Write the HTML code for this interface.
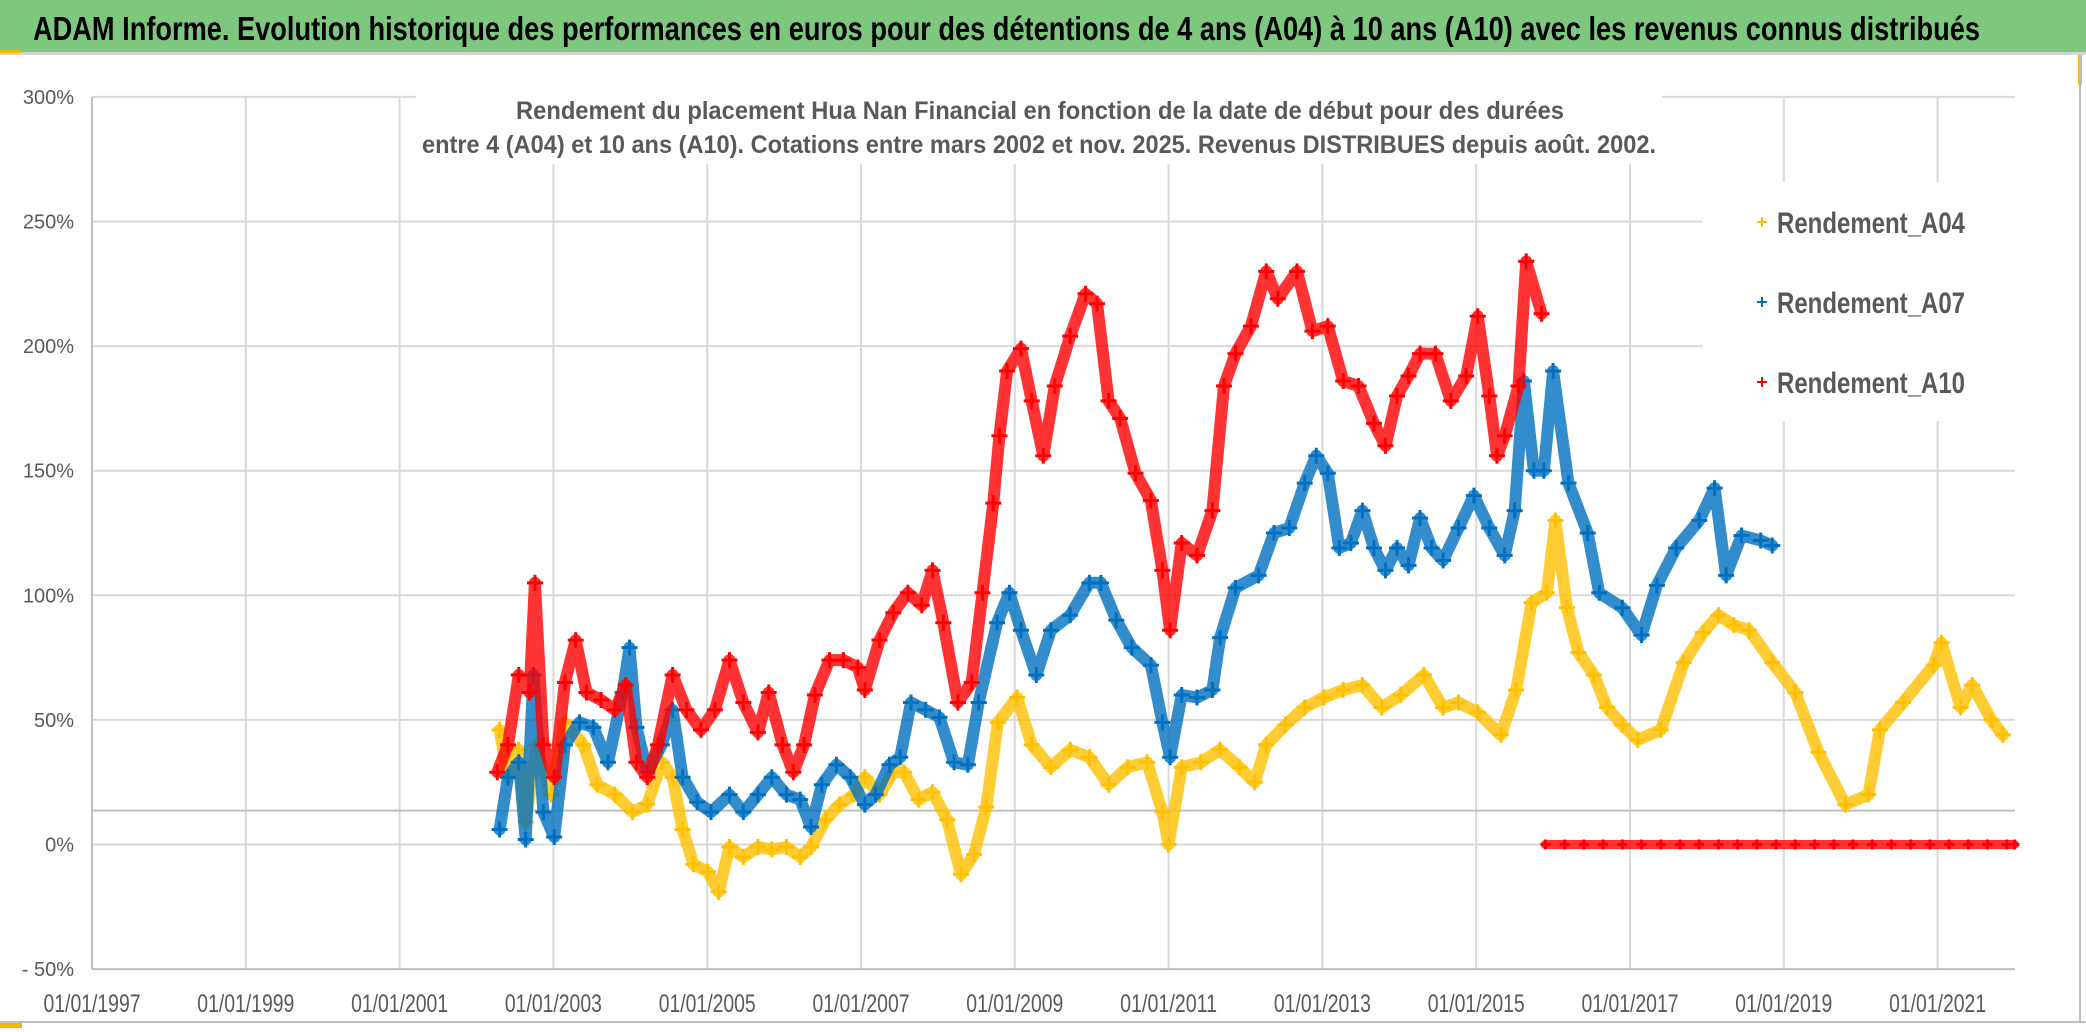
<!DOCTYPE html>
<html><head><meta charset="utf-8"><title>ADAM Informe - Hua Nan Financial</title>
<style>
html,body{margin:0;padding:0;background:#fff;}
svg{display:block;}
text{font-family:"Liberation Sans",sans-serif;}
</style></head>
<body>
<svg id="chart" width="2086" height="1032" viewBox="0 0 2086 1032" xmlns="http://www.w3.org/2000/svg">
  <rect x="0" y="0" width="2086" height="1032" fill="#fff"/>
  <rect x="0" y="0" width="2086" height="52" fill="#7dc87e"/>
  <rect x="0" y="52" width="2086" height="3" fill="#d4d4d4"/>
  <rect x="0" y="50" width="22" height="3" fill="#f2b800"/>
  <rect x="2078" y="55" width="4" height="30" fill="#f2b800"/>
  <line x1="2080" y1="55" x2="2080" y2="1022" stroke="#bfbfbf" stroke-width="2"/>
  <line x1="0" y1="1022" x2="2086" y2="1022" stroke="#bfbfbf" stroke-width="2"/>
  <rect x="0" y="1023" width="22" height="5" fill="#f2b800"/>
  <text x="33" y="40" font-size="33" font-weight="bold" fill="#000" textLength="1947" lengthAdjust="spacingAndGlyphs">ADAM Informe. Evolution historique des performances en euros pour des détentions de 4 ans (A04) à 10 ans (A10) avec les revenus connus distribués</text>
  <g id="grid"></g>
  <g id="axes"></g>
  <g id="series"></g>
  <rect x="416" y="88" width="1246" height="76" fill="#fff"/>
  <text x="516" y="119" font-size="25" font-weight="bold" fill="#595959" textLength="1048" lengthAdjust="spacingAndGlyphs">Rendement du placement Hua Nan Financial  en fonction de la date de début pour des durées</text>
  <text x="422" y="153" font-size="25" font-weight="bold" fill="#595959" textLength="1234" lengthAdjust="spacingAndGlyphs">entre 4 (A04) et 10 ans (A10). Cotations entre mars 2002 et nov. 2025. Revenus DISTRIBUES depuis août. 2002.</text>
  <g id="legend">
    <rect x="1703" y="182" width="312" height="239" fill="#fff"/>
    <g>
      <path d="M1757 222h10M1762 217v10" stroke="#ffc000" stroke-width="2"/>
      <text x="1777" y="233" font-size="30" font-weight="bold" fill="#595959" textLength="188" lengthAdjust="spacingAndGlyphs">Rendement_A04</text>
    </g>
    <g>
      <path d="M1757 302h10M1762 297v10" stroke="#0070c0" stroke-width="2"/>
      <text x="1777" y="313" font-size="30" font-weight="bold" fill="#595959" textLength="188" lengthAdjust="spacingAndGlyphs">Rendement_A07</text>
    </g>
    <g>
      <path d="M1757 382h10M1762 377v10" stroke="#ff0000" stroke-width="2"/>
      <text x="1777" y="393" font-size="30" font-weight="bold" fill="#595959" textLength="188" lengthAdjust="spacingAndGlyphs">Rendement_A10</text>
    </g>
  </g>
</svg>
<script>
// ---- data ----
const yTicks = [-50, 0, 50, 100, 150, 200, 250, 300];
const yTickLabels = ["- 50%", "0%", "50%", "100%", "150%", "200%", "250%", "300%"];
const xTicks = [1997, 1999, 2001, 2003, 2005, 2007, 2009, 2011, 2013, 2015, 2017, 2019, 2021];
const xTickLabels = ["01/01/1997","01/01/1999","01/01/2001","01/01/2003","01/01/2005","01/01/2007","01/01/2009","01/01/2011","01/01/2013","01/01/2015","01/01/2017","01/01/2019","01/01/2021"];
const refLineValue = 13.6;

const a04Dates = [2002.3,2002.41,2002.55,2002.64,2002.78,2002.97,2003.15,2003.39,2003.57,2003.8,2004.03,2004.22,2004.41,2004.55,2004.68,2004.82,2005.01,2005.15,2005.29,2005.47,2005.66,2005.84,2006.03,2006.21,2006.35,2006.54,2006.72,2006.91,2007.05,2007.24,2007.42,2007.56,2007.75,2007.93,2008.12,2008.3,2008.47,2008.63,2008.78,2009.03,2009.22,2009.47,2009.72,2009.97,2010.22,2010.47,2010.72,2010.92,2011.0,2011.17,2011.42,2011.67,2011.92,2012.12,2012.27,2012.52,2012.77,2013.02,2013.27,2013.52,2013.77,2014.02,2014.32,2014.57,2014.77,2015.02,2015.32,2015.52,2015.72,2015.92,2016.03,2016.18,2016.33,2016.53,2016.7,2016.9,2017.1,2017.4,2017.7,2017.95,2018.15,2018.35,2018.55,2018.85,2019.15,2019.45,2019.8,2020.1,2020.25,2020.55,2020.95,2021.05,2021.3,2021.45,2021.7,2021.85];
const a04Values = [46,27,38,9,40,20,49,40,24,20,13,16,33,27,6,-8,-11,-19,-1,-5,-1,-2,-1,-5,-1,10,16,20,27,20,29,29,18,21,10,-12,-4,15,49,59,40,31,38,35,24,31,33,13,0,31,33,38,31,25,40,48,55,59,62,64,55,60,68,55,57,53,44,62,97,101,130,95,77,68,55,48,42,46,73,85,92,88,86,73,61,37,16,20,46,57,72,81,55,64,50,44];

const a07Dates = [2002.3,2002.41,2002.55,2002.64,2002.74,2002.87,2003.01,2003.15,2003.34,2003.52,2003.71,2003.9,2003.99,2004.08,2004.22,2004.41,2004.55,2004.68,2004.87,2005.05,2005.29,2005.47,2005.66,2005.84,2006.03,2006.21,2006.35,2006.49,2006.68,2006.86,2007.05,2007.19,2007.37,2007.51,2007.65,2007.84,2008.02,2008.21,2008.39,2008.53,2008.77,2008.93,2009.08,2009.28,2009.47,2009.72,2009.97,2010.12,2010.32,2010.52,2010.77,2010.92,2011.02,2011.17,2011.37,2011.57,2011.67,2011.87,2012.17,2012.37,2012.57,2012.77,2012.92,2013.07,2013.22,2013.37,2013.52,2013.67,2013.82,2013.97,2014.12,2014.27,2014.42,2014.57,2014.77,2014.97,2015.17,2015.37,2015.5,2015.62,2015.75,2015.88,2016.0,2016.2,2016.45,2016.6,2016.9,2017.15,2017.35,2017.6,2017.9,2018.1,2018.25,2018.45,2018.7,2018.85];
const a07Values = [6,27,33,2,68,13,3,40,49,47,33,61,79,47,29,40,54,27,17,13,20,13,20,27,20,18,7,24,32,27,16,20,32,35,57,54,51,33,32,57,89,101,86,68,86,92,105,105,90,79,72,49,35,60,59,62,83,103,108,125,127,145,156,149,119,121,134,119,110,119,112,131,119,114,127,140,127,116,134,186,150,150,190,145,125,101,95,84,104,119,130,143,108,124,122,120];

const a10Dates = [2002.27,2002.41,2002.55,2002.69,2002.76,2002.87,2003.01,2003.15,2003.29,2003.43,2003.62,2003.8,2003.94,2004.08,2004.22,2004.36,2004.55,2004.73,2004.92,2005.1,2005.29,2005.47,2005.66,2005.8,2005.98,2006.12,2006.26,2006.4,2006.59,2006.77,2006.96,2007.05,2007.24,2007.42,2007.61,2007.79,2007.93,2008.07,2008.26,2008.44,2008.58,2008.72,2008.8,2008.9,2009.08,2009.22,2009.37,2009.52,2009.72,2009.92,2010.07,2010.22,2010.37,2010.57,2010.77,2010.92,2011.02,2011.17,2011.37,2011.57,2011.72,2011.87,2012.07,2012.27,2012.42,2012.67,2012.87,2013.07,2013.27,2013.47,2013.67,2013.82,2013.97,2014.12,2014.27,2014.47,2014.67,2014.87,2015.02,2015.17,2015.27,2015.37,2015.55,2015.65,2015.85];
const a10Values = [29,40,68,61,105,40,27,65,82,61,58,54,64,33,27,40,68,54,46,54,74,57,45,61,40,29,40,60,74,74,71,62,82,93,101,96,110,89,57,65,101,137,164,190,199,178,156,184,204,221,217,178,171,149,138,110,86,121,116,134,184,197,208,230,219,230,206,208,186,184,169,160,180,188,197,197,178,188,212,180,156,164,184,234,213];

const a10ZeroDates = [2015.9,2016.15,2016.4,2016.65,2016.9,2017.15,2017.4,2017.65,2017.9,2018.15,2018.4,2018.65,2018.9,2019.15,2019.4,2019.65,2019.9,2020.15,2020.4,2020.65,2020.9,2021.15,2021.4,2021.65,2021.9,2022.0];
const a10ZeroValues = [0,0,0,0,0,0,0,0,0,0,0,0,0,0,0,0,0,0,0,0,0,0,0,0,0,0];

// ---- scales ----
const NS = "http://www.w3.org/2000/svg";
const X0 = 92, XPerYear = 76.9, XMIN = 1997, XRIGHT = 2015;
const Y0 = 844.5, YPerPct = 2.492;
function xs(d){ return X0 + (d - XMIN) * XPerYear; }
function ys(v){ return Y0 - v * YPerPct; }
function mk(tag, attrs, parent){
  const e = document.createElementNS(NS, tag);
  for (const k in attrs) e.setAttribute(k, attrs[k]);
  parent.appendChild(e);
  return e;
}
const grid = document.getElementById('grid');
const axes = document.getElementById('axes');
const series = document.getElementById('series');

yTicks.forEach((t, i) => {
  if (t !== -50) {
    const g = mk('line', {x1: X0, x2: XRIGHT, y1: ys(t), y2: ys(t), stroke: '#d9d9d9', 'stroke-width': 2}, grid);
    
    
  }
  const l = mk('text', {x: 74, y: ys(t) + 7, 'font-size': 20, fill: '#595959', 'text-anchor': 'end'}, axes);
  l.textContent = yTickLabels[i];
  
  
});
xTicks.forEach((t, i) => {
  if (t !== 1997) {
    const g = mk('line', {x1: xs(t), x2: xs(t), y1: ys(300), y2: ys(-50), stroke: '#d9d9d9', 'stroke-width': 2}, grid);
    
    
  }
  const l = mk('text', {x: xs(t), y: 1012, 'font-size': 25, fill: '#595959', 'text-anchor': 'middle', textLength: 97, lengthAdjust: 'spacingAndGlyphs'}, axes);
  l.textContent = xTickLabels[i];
  
  
});
const yAxis = mk('line', {x1: X0, x2: X0, y1: ys(300), y2: ys(-50), stroke: '#bfbfbf', 'stroke-width': 2}, axes);


const xAxis = mk('line', {x1: X0, x2: XRIGHT, y1: ys(-50), y2: ys(-50), stroke: '#bfbfbf', 'stroke-width': 2}, axes);


const ref = mk('line', {x1: X0, x2: XRIGHT, y1: ys(refLineValue), y2: ys(refLineValue), stroke: '#bfbfbf', 'stroke-width': 2}, axes);



function drawSeries(dates, values, color, name, band, msize){
  const g = mk('g', {}, series);
  
  
  const pts = dates.map((d, i) => xs(d).toFixed(1) + ',' + ys(values[i]).toFixed(1)).join(' ');
  const pl = mk('polyline', {points: pts, fill: 'none', stroke: color, 'stroke-width': band, 'stroke-linejoin': 'round', 'stroke-linecap': 'round', opacity: 0.8}, g);
  
  
  dates.forEach((d, i) => {
    const x = xs(d), y = ys(values[i]);
    const p = mk('path', {d: `M${x - msize} ${y}h${2 * msize}M${x} ${y - msize}v${2 * msize}`, stroke: color, 'stroke-width': 3}, g);
    
    
  });
}
drawSeries(a04Dates, a04Values, '#ffc000', 'series-a04', 12, 8);
drawSeries(a07Dates, a07Values, '#0070c0', 'series-a07', 12, 8);
drawSeries(a10Dates, a10Values, '#ff0000', 'series-a10', 12, 8);
drawSeries(a10ZeroDates, a10ZeroValues, '#ff0000', 'series-a10-zero', 9, 5);
</script>
</body></html>
